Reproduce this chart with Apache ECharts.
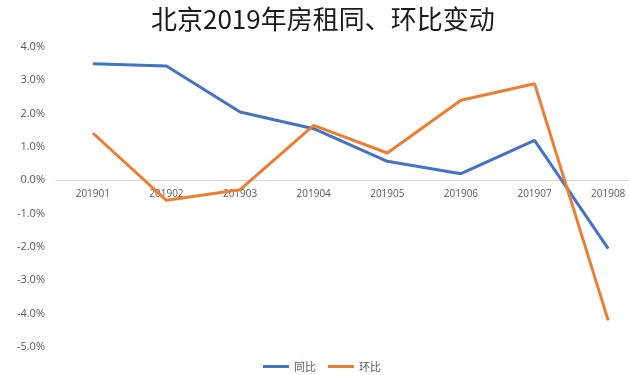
<!DOCTYPE html>
<html><head><meta charset="utf-8">
<script src="https://cdn.jsdelivr.net/npm/echarts@6/dist/echarts.min.js"></script>
<style>html,body{margin:0;padding:0;background:#fff;overflow:hidden}#c{width:645px;height:375px}</style>
</head><body><div id="c"></div>
<script>
const categories = ['201901','201902','201903','201904','201905','201906','201907','201908'];
const yoy = [3.50, 3.43, 2.05, 1.55, 0.57, 0.20, 1.20, -2.05];   // 同比 (%)
const mom = [1.42, -0.60, -0.28, 1.65, 0.82, 2.40, 2.90, -4.20]; // 环比 (%)
const seriesNames = ['同比', '环比'];
const yTicks = {min: -5, max: 4, interval: 1};

const chart = echarts.init(document.getElementById('c'), null, {renderer: 'canvas'});
chart.setOption({
  animation: false,
  backgroundColor: '#ffffff',
  title: {
    text: '北京2019年房租同、环比变动',
    left: 146, top: 1,
    textStyle: {fontFamily: 'Noto Sans CJK SC', fontSize: 26, fontWeight: 'normal', color: '#1a1a1a'}
  },
  legend: {
    bottom: -2, left: 258,
    icon: 'rect', itemWidth: 26, itemHeight: 3, itemGap: 12,
    textStyle: {fontFamily: 'Noto Sans CJK SC', fontSize: 11, color: '#595959'},
    data: seriesNames
  },
  grid: {left: 56, right: 0, top: 47, bottom: 28, containLabel: false},
  xAxis: {
    type: 'category', data: categories, boundaryGap: true,
    position: 'bottom', offset: -167,
    axisLine: {onZero: false, lineStyle: {color: '#d9d9d9', width: 1}},
    axisTick: {show: false},
    axisLabel: {fontFamily: 'Open Sans', fontSize: 10, color: '#595959', margin: 9}
  },
  yAxis: {
    type: 'value', min: yTicks.min, max: yTicks.max, interval: yTicks.interval,
    axisLine: {show: false}, axisTick: {show: false}, splitLine: {show: false},
    axisLabel: {fontFamily: 'Open Sans', fontSize: 11, color: '#595959', margin: 11,
      formatter: v => v.toFixed(1) + '%'}
  },
  series: [
    {name: seriesNames[0], type: 'line', data: yoy, symbol: 'none',
     lineStyle: {color: '#4472C4', width: 3}, itemStyle: {color: '#4472C4'}},
    {name: seriesNames[1], type: 'line', data: mom, symbol: 'none',
     lineStyle: {color: '#ED7D31', width: 3}, itemStyle: {color: '#ED7D31'}}
  ]
});
</script></body></html>
